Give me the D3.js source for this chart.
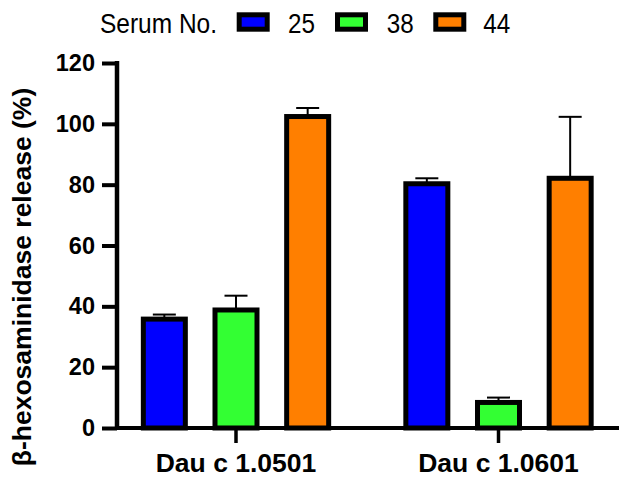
<!DOCTYPE html>
<html>
<head>
<meta charset="utf-8">
<script src="https://cdn.jsdelivr.net/npm/d3@7"></script>
<style>
  html, body { margin: 0; padding: 0; background: #fff; }
  svg { display: block; font-family: "Liberation Sans", Arial, sans-serif; }
</style>
</head>
<body>
<svg id="chart" width="619" height="477"></svg>
<script>
// Antigens on the x axis
const groups = ["Dau c 1.0501", "Dau c 1.0601"];
// Serum numbers (one bar per serum within each antigen group)
const series = ["25", "38", "44"];
const seriesColors = ["#0000ff", "#33ff33", "#ff7f00"];
// Mean release (%) per serum, ordered as in `groups`
const serum25 = [35.8, 80.3];
const serum38 = [38.8, 8.4];
const serum44 = [102.4, 82.1];
// Upper error (SD) per serum
const err25 = [1.5, 1.8];
const err38 = [4.7, 1.6];
const err44 = [2.8, 20.2];
const yTicks = [0, 20, 40, 60, 80, 100, 120];

const values = [serum25, serum38, serum44];
const errors = [err25, err38, err44];

const svg = d3.select("#chart");

const y = d3.scaleLinear().domain([0, 120]).range([428, 63]);
const x0 = d3.scaleBand().domain(groups).range([104.75, 629.75]).padding(0);
const x1 = d3.scaleBand().domain(series).range([-107.5, 107.5]).padding(0);

const barW = 42;
const strokeW = 5;

const data = [];
groups.forEach((g, gi) => {
  series.forEach((s, si) => {
    data.push({ g, s, si, v: values[si][gi], e: errors[si][gi] });
  });
});

const cx = d => x0(d.g) + x0.bandwidth() / 2 + x1(d.s) + x1.bandwidth() / 2;

// error bars (drawn under the bars so only the upper part shows)
const eb = svg.append("g").attr("stroke", "#000").attr("stroke-width", 2);
eb.selectAll("line.v").data(data).join("line")
  .attr("x1", d => cx(d)).attr("x2", d => cx(d))
  .attr("y1", d => y(d.v)).attr("y2", d => y(d.v + d.e));
eb.selectAll("line.c").data(data).join("line")
  .attr("x1", d => cx(d) - 11.5).attr("x2", d => cx(d) + 11.5)
  .attr("y1", d => y(d.v + d.e)).attr("y2", d => y(d.v + d.e));

// bars
svg.append("g").selectAll("rect").data(data).join("rect")
  .attr("x", d => cx(d) - barW / 2)
  .attr("width", barW)
  .attr("y", d => y(d.v))
  .attr("height", d => y(0) - y(d.v))
  .attr("fill", d => seriesColors[d.si])
  .attr("stroke", "#000")
  .attr("stroke-width", strokeW);

// y axis
const yAxis = svg.append("g").attr("transform", "translate(117,0)")
  .call(d3.axisLeft(y).tickValues(yTicks).tickSize(15).tickPadding(7).tickSizeOuter(0));
yAxis.select(".domain").remove();
yAxis.selectAll(".tick line").attr("stroke-width", 4);
yAxis.selectAll(".tick text")
  .attr("font-family", "'Liberation Sans', Arial, sans-serif")
  .attr("font-size", 23.5).attr("font-weight", "bold").attr("fill", "#000");
svg.append("line").attr("x1", 117).attr("x2", 117).attr("y1", y(120) - 2).attr("y2", y(0) + 2)
  .attr("stroke", "#000").attr("stroke-width", 4.5);

// x axis
const xAxis = svg.append("g").attr("transform", `translate(0,${y(0)})`)
  .call(d3.axisBottom(x0).tickSize(15).tickPadding(10).tickSizeOuter(0));
xAxis.select(".domain").remove();
xAxis.selectAll(".tick line").attr("stroke-width", 3.5);
xAxis.selectAll(".tick text")
  .attr("font-family", "'Liberation Sans', Arial, sans-serif")
  .attr("font-size", 26.5).attr("font-weight", "bold").attr("fill", "#000");
svg.append("line").attr("x1", 115).attr("x2", 619).attr("y1", y(0)).attr("y2", y(0))
  .attr("stroke", "#000").attr("stroke-width", 4);

// y axis title
svg.append("text")
  .attr("transform", "translate(31,277) rotate(-90)")
  .attr("text-anchor", "middle")
  .attr("font-size", 26.5).attr("font-weight", "bold")
  .text("β-hexosaminidase release (%)");

// legend
const legend = svg.append("g");
legend.append("text").attr("x", 100).attr("y", 33)
  .attr("font-size", 28).attr("textLength", 117).attr("lengthAdjust", "spacingAndGlyphs")
  .text("Serum No.");
const swX = [236.7, 335, 433.3];
const labX = [288, 386.7, 483.3];
series.forEach((s, i) => {
  legend.append("rect")
    .attr("x", swX[i] + 2.5).attr("y", 14.8)
    .attr("width", 28).attr("height", 14.4)
    .attr("fill", seriesColors[i]).attr("stroke", "#000").attr("stroke-width", 5);
  legend.append("text").attr("x", labX[i]).attr("y", 33)
    .attr("font-size", 28).attr("textLength", 27).attr("lengthAdjust", "spacingAndGlyphs")
    .text(s);
});
</script>
</body>
</html>
